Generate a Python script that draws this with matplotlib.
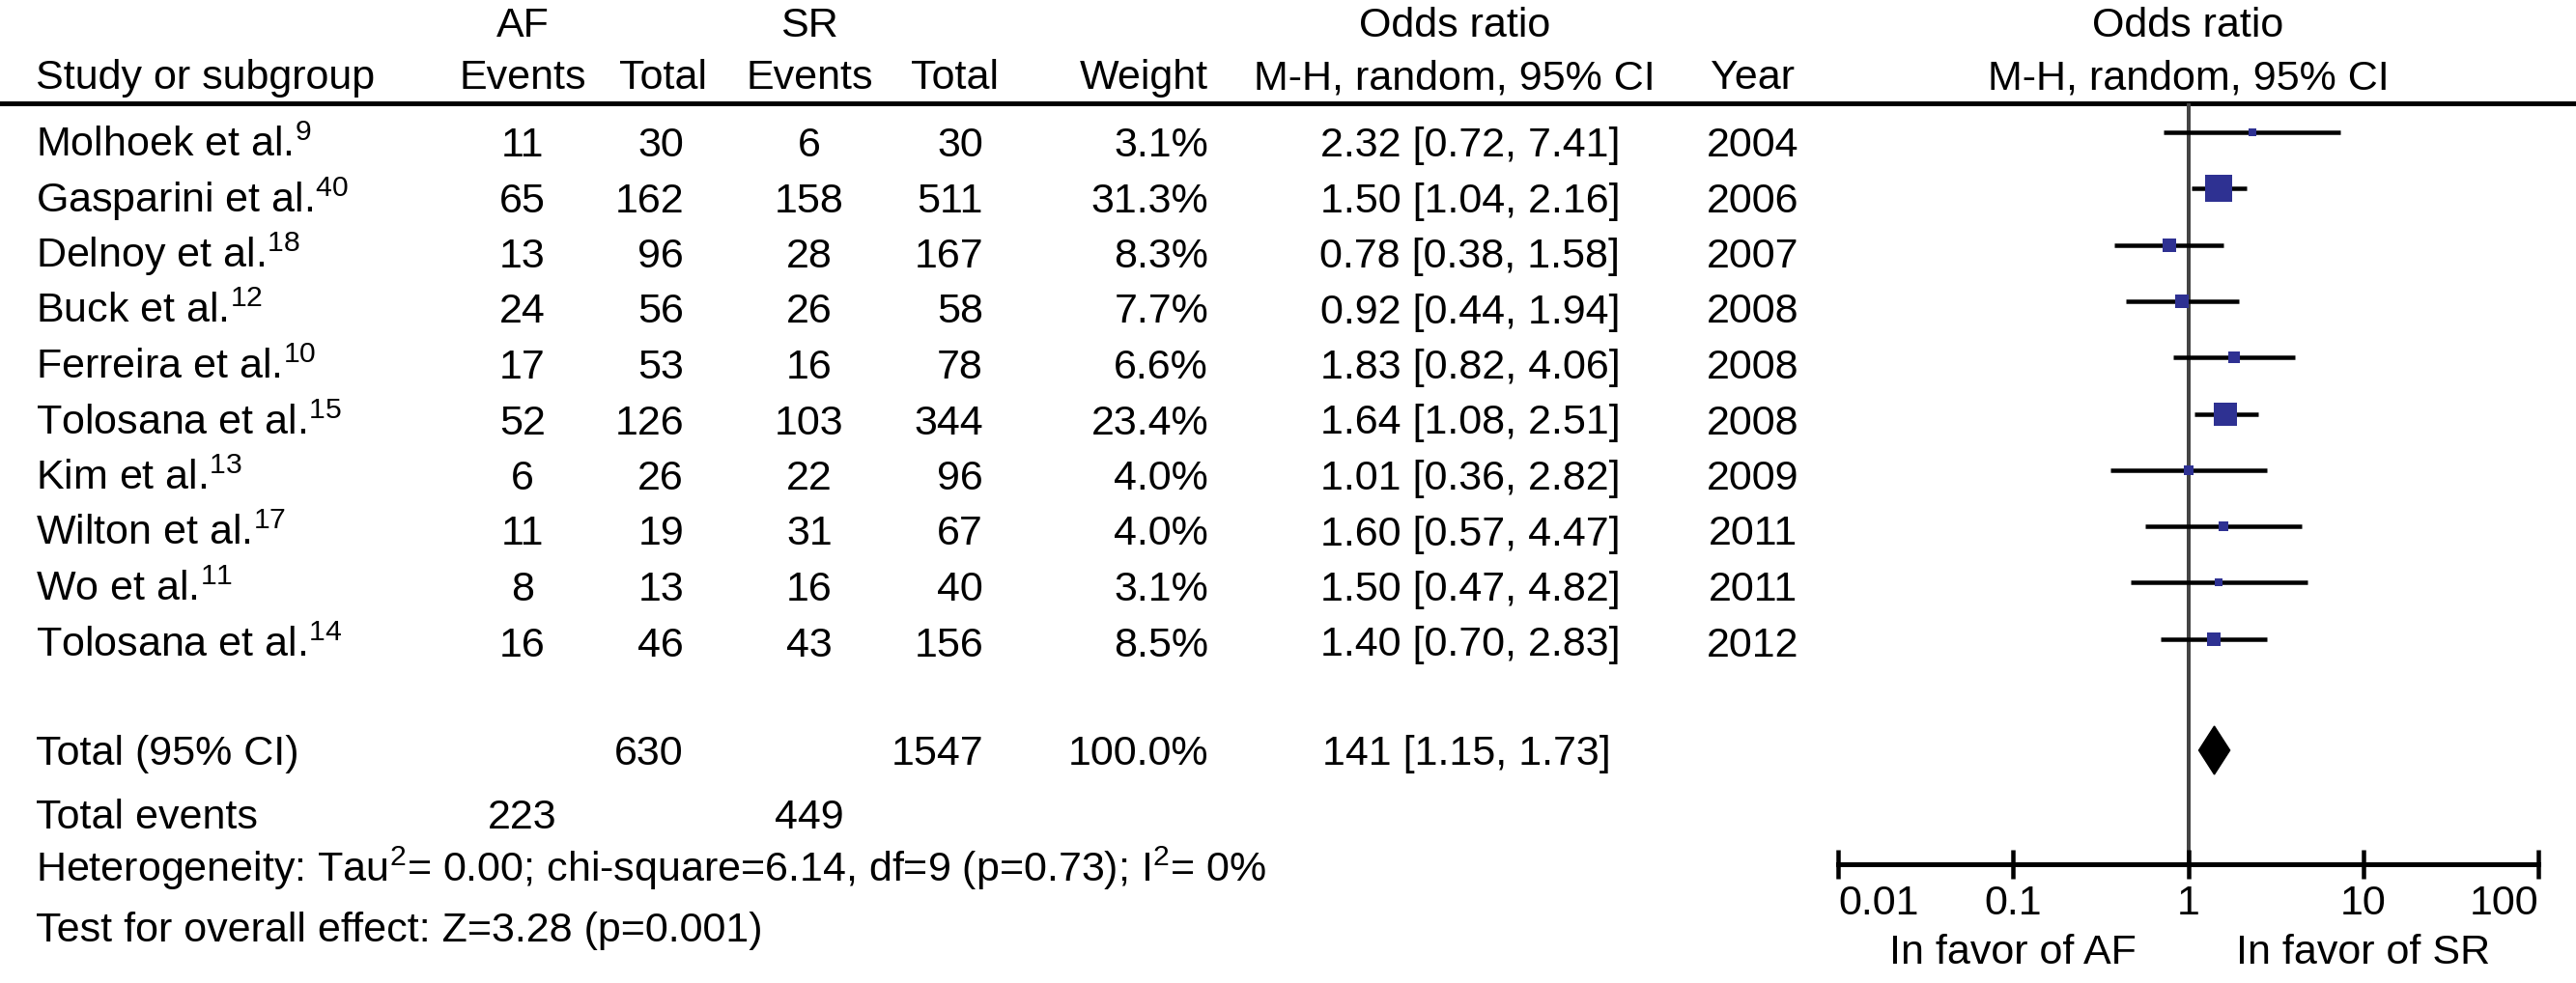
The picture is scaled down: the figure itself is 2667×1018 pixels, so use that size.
import matplotlib
matplotlib.use('Agg')
import matplotlib.pyplot as plt
import numpy as np

plt.rcParams['font.family'] = ['Liberation Sans', 'DejaVu Sans']
plt.rcParams['mathtext.fontset'] = 'custom'
plt.rcParams['mathtext.rm'] = 'Liberation Sans'
plt.rcParams['mathtext.it'] = 'Liberation Sans:italic'

# ---- data ----
studies = ['Molhoek et al.', 'Gasparini et al.', 'Delnoy et al.', 'Buck et al.',
           'Ferreira et al.', 'Tolosana et al.', 'Kim et al.', 'Wilton et al.',
           'Wo et al.', 'Tolosana et al.']
refs = ['9', '40', '18', '12', '10', '15', '13', '17', '11', '14']
af_events = [11, 65, 13, 24, 17, 52, 6, 11, 8, 16]
af_total = [30, 162, 96, 56, 53, 126, 26, 19, 13, 46]
sr_events = [6, 158, 28, 26, 16, 103, 22, 31, 16, 43]
sr_total = [30, 511, 167, 58, 78, 344, 96, 67, 40, 156]
weights = [3.1, 31.3, 8.3, 7.7, 6.6, 23.4, 4.0, 4.0, 3.1, 8.5]
odds = [2.32, 1.50, 0.78, 0.92, 1.83, 1.64, 1.01, 1.60, 1.50, 1.40]
ci_lo = [0.72, 1.04, 0.38, 0.44, 0.82, 1.08, 0.36, 0.57, 0.47, 0.70]
ci_hi = [7.41, 2.16, 1.58, 1.94, 4.06, 2.51, 2.82, 4.47, 4.82, 2.83]
years = [2004, 2006, 2007, 2008, 2008, 2008, 2009, 2011, 2011, 2012]

tot_af, tot_sr = 630, 1547
tot_weight = '100.0%'
tot_or, tot_lo, tot_hi = 1.41, 1.15, 1.73
tot_or_label = '141 [1.15, 1.73]'
ev_af, ev_sr = 223, 449
het_text = 'Heterogeneity: Tau$^{\\mathrm{2}}$= 0.00; chi-square=6.14, df=9 (p=0.73); I$^{\\mathrm{2}}$= 0%'
test_text = 'Test for overall effect: Z=3.28 (p=0.001)'
xticks = [0.01, 0.1, 1, 10, 100]
xtick_labels = ['0.01', '0.1', '1', '10', '100']

W, H = 2667, 1018
fig = plt.figure(figsize=(W / 100, H / 100), dpi=100)
ax = fig.add_axes([0, 0, 1, 1])
ax.set_xlim(0, W)
ax.set_ylim(H, 0)
ax.axis('off')

fs = 31
px = 0.72  # points per pixel at dpi 100

# header
ax.text(541, 38, 'AF', ha='center', va='baseline', fontsize=fs)
ax.text(838, 38, 'SR', ha='center', va='baseline', fontsize=fs)
ax.text(1506, 38, 'Odds ratio', ha='center', va='baseline', fontsize=fs)
hy = 92
ax.text(37, hy, 'Study or subgroup', ha='left', va='baseline', fontsize=fs)
ax.text(541, hy, 'Events', ha='center', va='baseline', fontsize=fs)
ax.text(686, hy, 'Total', ha='center', va='baseline', fontsize=fs)
ax.text(838, hy, 'Events', ha='center', va='baseline', fontsize=fs)
ax.text(989, hy, 'Total', ha='center', va='baseline', fontsize=fs)
ax.text(1251, hy, 'Weight', ha='right', va='baseline', fontsize=fs)
ax.text(1506, hy, 'M-H, random, 95% CI', ha='center', va='baseline', fontsize=fs)
ax.text(1815, hy, 'Year', ha='center', va='baseline', fontsize=fs)
ax.axhline(107, color='black', lw=5 * px)

# study rows
or_x = 1522
for i in range(len(studies)):
    yb = 162 + 57.5 * i
    ax.text(37, yb, studies[i] + '$^{\\mathrm{' + refs[i] + '}}$', ha='left', va='baseline', fontsize=fs)
    ax.text(541, yb, str(af_events[i]), ha='center', va='baseline', fontsize=fs)
    ax.text(708, yb, str(af_total[i]), ha='right', va='baseline', fontsize=fs)
    ax.text(838, yb, str(sr_events[i]), ha='center', va='baseline', fontsize=fs)
    ax.text(1018, yb, str(sr_total[i]), ha='right', va='baseline', fontsize=fs)
    ax.text(1251, yb, '%.1f%%' % weights[i], ha='right', va='baseline', fontsize=fs)
    ax.text(or_x, yb, '%.2f [%.2f, %.2f]' % (odds[i], ci_lo[i], ci_hi[i]),
            ha='center', va='baseline', fontsize=fs)
    ax.text(1815, yb, str(years[i]), ha='center', va='baseline', fontsize=fs)

# totals
ax.text(37, 792, 'Total (95% CI)', ha='left', va='baseline', fontsize=fs)
ax.text(708, 792, str(tot_af), ha='right', va='baseline', fontsize=fs)
ax.text(1018, 792, str(tot_sr), ha='right', va='baseline', fontsize=fs)
ax.text(1251, 792, tot_weight, ha='right', va='baseline', fontsize=fs)
ax.text(or_x - 4, 792, tot_or_label, ha='center', va='baseline', fontsize=fs)
ax.text(37, 858, 'Total events', ha='left', va='baseline', fontsize=fs)
ax.text(541, 858, str(ev_af), ha='center', va='baseline', fontsize=fs)
ax.text(838, 858, str(ev_sr), ha='center', va='baseline', fontsize=fs)
ax.text(37, 913, het_text, ha='left', va='baseline', fontsize=fs)
ax.text(37, 975, test_text, ha='left', va='baseline', fontsize=fs)

# forest plot
x0, x1 = 1903, 2628
ytop, ybot = 107, 895
ax2 = fig.add_axes([x0 / W, (H - ybot) / H, (x1 - x0) / W, (ybot - ytop) / H])
ax2.set_xscale('log')
ax2.set_xlim(0.01, 100)
ax2.set_ylim(ybot, ytop)
ax2.patch.set_alpha(0)
for s in ['top', 'left', 'right']:
    ax2.spines[s].set_visible(False)
ax2.spines['bottom'].set_linewidth(5 * px)
ax2.set_yticks([])
ax2.set_xticks(xticks)
ax2.minorticks_off()
ax2.tick_params(axis='x', direction='inout', length=30 * px, width=4.5 * px,
                pad=4, labelsize=fs)
ax2.set_xticklabels(xtick_labels)
labs = ax2.get_xticklabels()
labs[0].set_ha('left')
labs[-1].set_ha('right')

ax2.axvline(1, color='#444444', lw=4 * px, zorder=1)

navy = '#2E3192'
for i in range(len(studies)):
    yc = 137 + 58.3 * i
    ax2.plot([ci_lo[i], ci_hi[i]], [yc, yc], color='black', lw=4.5 * px,
             solid_capstyle='butt', zorder=2)
    side = 5 * np.sqrt(weights[i])
    ax2.plot(odds[i], yc, marker='s', markersize=side * px, color=navy,
             markeredgewidth=0, zorder=3)

yd = 777
ax2.fill([tot_lo, tot_or, tot_hi, tot_or], [yd, yd - 25, yd, yd + 25],
         color='black', zorder=3, clip_on=False)

ax2.text(1, 38, 'Odds ratio', ha='center', va='baseline', fontsize=fs, clip_on=False)
ax2.text(1, 92, 'M-H, random, 95% CI', ha='center', va='baseline', fontsize=fs,
         clip_on=False)
ax2.text(0.1, 998, 'In favor of AF', ha='center', va='baseline', fontsize=fs, clip_on=False)
ax2.text(10, 998, 'In favor of SR', ha='center', va='baseline', fontsize=fs, clip_on=False)

fig.savefig('out.png', dpi=100)
